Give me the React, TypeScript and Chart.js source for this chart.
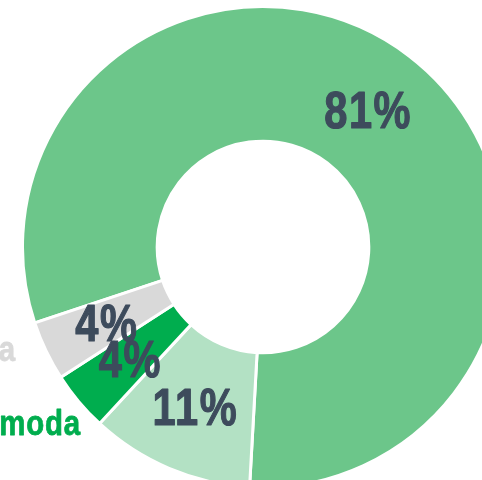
import React, { useEffect, useRef } from "react";
import { Chart, registerables } from "chart.js";

Chart.register(...registerables);

const categories = ["Cat A", "Cat B", "Incómoda", "Cat D"];
const values = [81, 11, 4, 4];
const valueLabels = ["81%", "11%", "4%", "4%"];
const colors = ["#6cc68a", "#b3e1c4", "#00ad4e", "#d9d9d9"];
const sideLabels = ["a", "moda"];
const sideLabelColors = ["#d9d9d9", "#00ad4e"];

const FONT = "'Liberation Sans', Arial, sans-serif";

function drawNarrow(
  ctx: any,
  text: string,
  x: number,
  y: number,
  align: "center" | "right",
  scaleX: number,
  stroke: number,
  spacing: number
) {
  ctx.save();
  ctx.translate(x, y);
  ctx.scale(scaleX, 1);
  ctx.textAlign = align;
  ctx.lineJoin = "round";
  try {
    ctx.letterSpacing = `${spacing}px`;
  } catch (e) {}
  if (stroke > 0) {
    ctx.lineWidth = stroke;
    ctx.strokeStyle = ctx.fillStyle;
    ctx.strokeText(text, 0, 0);
  }
  ctx.fillText(text, 0, 0);
  ctx.restore();
}

const labelPlugin = {
  id: "sliceLabels",
  afterDatasetsDraw(chart: any) {
    const ctx = chart.ctx;
    const meta = chart.getDatasetMeta(0);
    ctx.save();
    ctx.fillStyle = "#3d4b5c";
    ctx.font = `bold 52px ${FONT}`;
    ctx.textBaseline = "alphabetic";
    meta.data.forEach((arc: any, i: number) => {
      const p = arc.tooltipPosition();
      drawNarrow(ctx, valueLabels[i], p.x, p.y + 19, "center", 0.8, 1.2, 2);
    });
    // cropped side labels (legend text at left)
    ctx.font = `bold 35px ${FONT}`;
    ctx.fillStyle = sideLabelColors[0];
    drawNarrow(ctx, sideLabels[0], 16, 361, "right", 0.84, 0.8, 1);
    ctx.fillStyle = sideLabelColors[1];
    drawNarrow(ctx, sideLabels[1], 81, 435, "right", 0.84, 0.8, 1);
    ctx.restore();
  },
};

export default function App() {
  const ref = useRef<HTMLCanvasElement | null>(null);
  useEffect(() => {
    if (!ref.current) return;
    const chart = new Chart(ref.current, {
      type: "doughnut",
      data: {
        labels: categories,
        datasets: [
          {
            data: values,
            backgroundColor: colors,
            borderColor: "#ffffff",
            borderWidth: 3,
          },
        ],
      },
      options: {
        responsive: false,
        animation: false,
        devicePixelRatio: 1,
        rotation: 251.6,
        cutout: "44%",
        layout: { padding: { left: 21, right: 21, top: 5, bottom: 5 } },
        plugins: {
          legend: { display: false },
          tooltip: { enabled: false },
        },
      },
      plugins: [labelPlugin],
    });
    return () => chart.destroy();
  }, []);
  return (
    <div
      style={{
        position: "fixed",
        left: 0,
        top: 0,
        width: 482,
        height: 480,
        overflow: "hidden",
        background: "#ffffff",
      }}
    >
      <canvas
        ref={ref}
        width={526}
        height={494}
        style={{ position: "absolute", left: 0, top: 0, width: 526, height: 494 }}
      />
    </div>
  );
}
